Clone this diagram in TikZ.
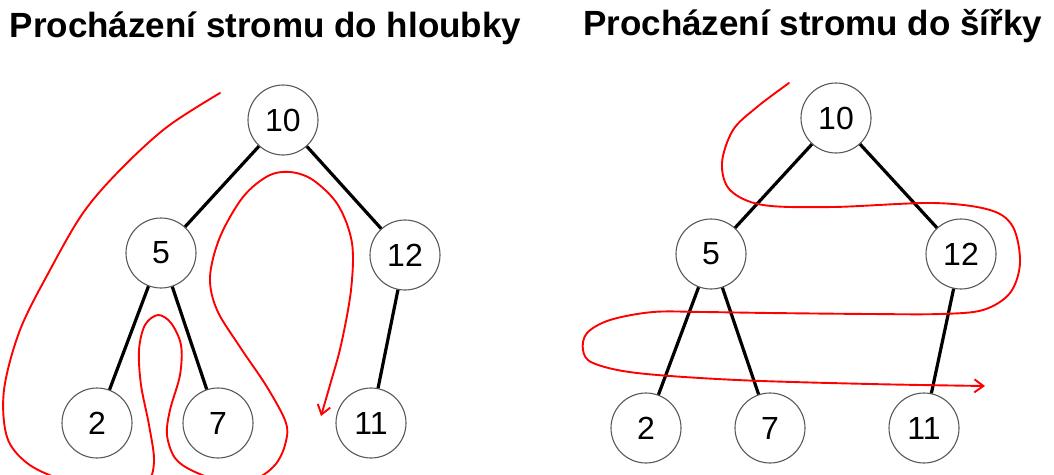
\documentclass[tikz,border=0pt]{standalone}
\usepackage{fontspec}
\setmainfont{Liberation Sans}
\usetikzlibrary{arrows.meta}
\begin{document}
\begin{tikzpicture}[x=1pt,y=-1pt,
  treenode/.style={circle, draw=black!65, line width=1.1pt, fill=white,
    minimum size=70pt, inner sep=0pt, font=\fontsize{32}{32}\selectfont},
  edgeline/.style={line width=3.2pt, black},
  trail/.style={red, line width=1.9pt, line join=round, line cap=round},
  titletext/.style={font=\fontsize{35}{42}\selectfont\bfseries, anchor=base west, inner sep=0pt}]
\useasboundingbox (0,0) rectangle (1054,474);

% titles
\node[titletext] (t1) at (9.5,37) {Procházení stromu do hloubky};
\node[titletext] (t2) at (583,35) {Procházení stromu do šířky};

% left tree
\node[treenode] (a10) at (283,120) {10};
\node[treenode] (a5)  at (161,253) {5};
\node[treenode] (a12) at (405,255) {12};
\node[treenode] (a2)  at (97,423)  {2};
\node[treenode] (a7)  at (218,423) {7};
\node[treenode] (a11) at (371,423) {11};
\draw[edgeline] (a10) -- (a5);
\draw[edgeline] (a10) -- (a12);
\draw[edgeline] (a5) -- (a2);
\draw[edgeline] (a5) -- (a7);
\draw[edgeline] (a12) -- (a11);

% right tree
\node[treenode] (b10) at (836,118) {10};
\node[treenode] (b5)  at (711,254) {5};
\node[treenode] (b12) at (961,254) {12};
\node[treenode] (b2)  at (646,428) {2};
\node[treenode] (b7)  at (770,428) {7};
\node[treenode] (b11) at (924,428) {11};
\draw[edgeline] (b10) -- (b5);
\draw[edgeline] (b10) -- (b12);
\draw[edgeline] (b5) -- (b2);
\draw[edgeline] (b5) -- (b7);
\draw[edgeline] (b12) -- (b11);

% traversal curves
\begin{scope}
\clip (0,0) rectangle (1054,474);
\draw[trail, -{Straight Barb[length=9pt,width=13pt]}] plot[smooth, tension=0.55] coordinates {
 (220,93) (167,127) (120,170) (83,213) (50,270) (20,330) (4,390) (7,437) (27,463)
 (60,479) (105,490) (145,483) (154,462) (149,425) (141,385) (139,350) (145,325)
 (158,315) (171,323) (181,345) (180,375) (170,410) (167,435) (175,458) (193,471)
 (225,482) (255,479) (275,465) (285,445) (286,423) (267,387) (240,347) (217,310)
 (210,277) (220,237) (243,197) (268,176) (290,172) (313,180) (338,205) (352,243)
 (351,290) (341,345) (330,385) (321,416)};
\draw[trail, -{Straight Barb[length=9pt,width=13pt]}] plot[smooth, tension=0.55] coordinates {
 (789,83) (757,107) (733,130) (722,163) (730,190) (763,205) (833,207) (933,203)
 (990,210) (1013,227) (1020,263) (1010,293) (983,310) (940,314) (870,314) (770,313)
 (703,312) (653,312) (610,320) (587,333) (583,350) (593,363) (637,373) (737,380)
 (870,384) (985,386)};
\end{scope}
\end{tikzpicture}
\end{document}
